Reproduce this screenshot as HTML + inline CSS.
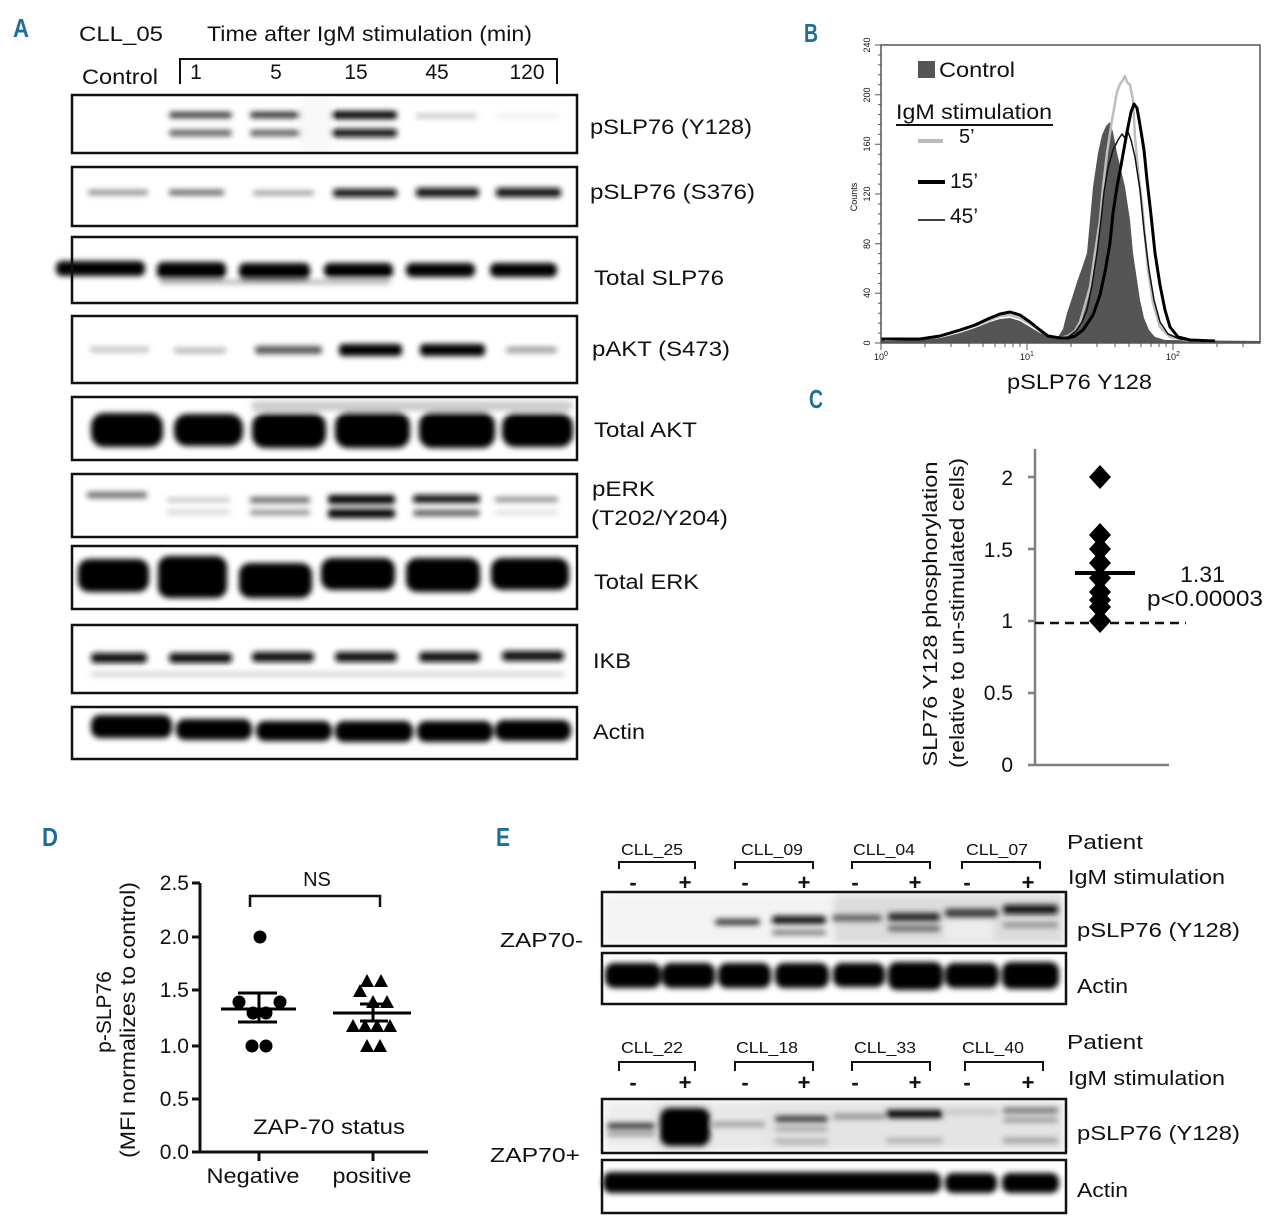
<!DOCTYPE html>
<html><head><meta charset="utf-8"><style>
html,body{margin:0;padding:0;background:#fff;}
svg{display:block;}
text{font-family:"Liberation Sans",Arial,sans-serif;fill:#111;}
.pl{font-family:"Liberation Sans Narrow","Liberation Sans",sans-serif;font-weight:bold;fill:#1e6e9c;font-size:26px;}
</style></head><body>
<svg width="1280" height="1226" viewBox="0 0 1280 1226" xmlns="http://www.w3.org/2000/svg">
<defs>
<filter id="b2" filterUnits="userSpaceOnUse" x="0" y="0" width="1280" height="1226"><feGaussianBlur stdDeviation="2.8"/></filter>
<filter id="b4" filterUnits="userSpaceOnUse" x="0" y="0" width="1280" height="1226"><feGaussianBlur stdDeviation="4"/></filter>
</defs>
<rect width="1280" height="1226" fill="#fff"/>

<!-- ============ PANEL A ============ -->
<text class="pl" x="13" y="37" textLength="16" lengthAdjust="spacingAndGlyphs">A</text>
<text x="79" y="41" font-size="21" textLength="84" lengthAdjust="spacingAndGlyphs">CLL_05</text>
<text x="207" y="41" font-size="21" textLength="325" lengthAdjust="spacingAndGlyphs">Time after IgM stimulation (min)</text>
<text x="82" y="84" font-size="21" textLength="76" lengthAdjust="spacingAndGlyphs">Control</text>
<path d="M180,84 L180,59 L557,59 L557,84" fill="none" stroke="#111" stroke-width="2"/>
<g font-size="21" text-anchor="middle">
<text x="196" y="79">1</text><text x="276" y="79">5</text><text x="356" y="79">15</text><text x="437" y="79">45</text><text x="527" y="79">120</text>
</g>

<!-- blot bands -->
<g filter="url(#b2)">
<!-- box1 pSLP76 Y128 -->
<rect x="169" y="112" width="63" height="6" rx="3" fill="#333"/>
<rect x="169" y="130" width="63" height="6" rx="3" fill="#555"/>
<rect x="250" y="112" width="63" height="6" rx="3" fill="#222"/>
<rect x="250" y="130" width="63" height="6" rx="3" fill="#555"/>
<rect x="331" y="111" width="66" height="8" rx="3" fill="#000"/>
<rect x="331" y="129" width="66" height="8" rx="3" fill="#111"/>
<rect x="416" y="114" width="61" height="4" rx="2" fill="#bbb"/>
<rect x="496" y="115" width="63" height="3" rx="2" fill="#e6e6e6"/>
<rect x="300" y="97" width="30" height="55" fill="#f8f8f8"/>
<!-- box2 pSLP76 S376 -->
<rect x="88" y="190" width="60" height="5" rx="2" fill="#888"/>
<rect x="169" y="190" width="55" height="5" rx="2" fill="#555"/>
<rect x="253" y="191" width="61" height="4" rx="2" fill="#888"/>
<rect x="333" y="189" width="64" height="8" rx="3" fill="#111"/>
<rect x="416" y="188" width="63" height="9" rx="3" fill="#111"/>
<rect x="496" y="188" width="65" height="9" rx="3" fill="#111"/>
<!-- box3 Total SLP76 -->
<rect x="56" y="261" width="89" height="15" rx="6" fill="#000"/>
<rect x="157" y="262" width="69" height="17" rx="6" fill="#000"/>
<rect x="239" y="263" width="71" height="17" rx="6" fill="#000"/>
<rect x="324" y="263" width="69" height="15" rx="6" fill="#000"/>
<rect x="406" y="263" width="69" height="14" rx="6" fill="#000"/>
<rect x="490" y="263" width="67" height="14" rx="6" fill="#000"/>
<rect x="160" y="280" width="230" height="4" fill="#aaa"/>
<!-- box4 pAKT -->
<rect x="90" y="347" width="59" height="5" rx="2" fill="#bbb"/>
<rect x="174" y="348" width="52" height="5" rx="2" fill="#aaa"/>
<rect x="255" y="346" width="67" height="8" rx="3" fill="#555"/>
<rect x="339" y="344" width="63" height="12" rx="4" fill="#000"/>
<rect x="420" y="344" width="65" height="12" rx="4" fill="#000"/>
<rect x="506" y="347" width="51" height="6" rx="3" fill="#999"/>
<!-- box5 Total AKT -->
<rect x="252" y="401" width="320" height="10" fill="#ccc"/>
<rect x="91" y="413" width="72" height="34" rx="13" fill="#000"/>
<rect x="174" y="414" width="69" height="32" rx="13" fill="#000"/>
<rect x="252" y="413" width="74" height="35" rx="13" fill="#000"/>
<rect x="335" y="412" width="75" height="36" rx="13" fill="#000"/>
<rect x="419" y="412" width="76" height="36" rx="13" fill="#000"/>
<rect x="502" y="413" width="71" height="34" rx="13" fill="#000"/>
<!-- box6 pERK -->
<rect x="87" y="492" width="60" height="6" rx="2" fill="#666"/>
<rect x="167" y="498" width="63" height="4" rx="2" fill="#bbb"/>
<rect x="167" y="510" width="63" height="4" rx="2" fill="#ccc"/>
<rect x="250" y="497" width="60" height="6" rx="2" fill="#666"/>
<rect x="250" y="510" width="60" height="5" rx="2" fill="#888"/>
<rect x="328" y="495" width="67" height="9" rx="3" fill="#000"/>
<rect x="328" y="509" width="67" height="9" rx="3" fill="#000"/>
<rect x="413" y="495" width="67" height="8" rx="3" fill="#111"/>
<rect x="413" y="510" width="67" height="6" rx="3" fill="#555"/>
<rect x="495" y="497" width="63" height="5" rx="2" fill="#888"/>
<rect x="495" y="511" width="63" height="3" rx="2" fill="#ccc"/>
<!-- box7 Total ERK -->
<rect x="78" y="559" width="71" height="33" rx="11" fill="#000"/>
<rect x="158" y="556" width="69" height="42" rx="11" fill="#000"/>
<rect x="239" y="563" width="73" height="35" rx="11" fill="#000"/>
<rect x="321" y="558" width="74" height="32" rx="11" fill="#000"/>
<rect x="406" y="558" width="74" height="34" rx="11" fill="#000"/>
<rect x="491" y="558" width="78" height="32" rx="11" fill="#000"/>
<!-- box8 IKB -->
<rect x="91" y="653" width="56" height="10" rx="4" fill="#111"/>
<rect x="169" y="653" width="63" height="10" rx="4" fill="#111"/>
<rect x="252" y="652" width="62" height="10" rx="4" fill="#111"/>
<rect x="335" y="652" width="62" height="10" rx="4" fill="#111"/>
<rect x="419" y="652" width="61" height="10" rx="4" fill="#111"/>
<rect x="502" y="651" width="62" height="10" rx="4" fill="#111"/>
<rect x="91" y="672" width="473" height="4" fill="#ccc"/>
<!-- box9 Actin -->
<rect x="91" y="715" width="81" height="23" rx="9" fill="#000"/>
<rect x="176" y="719" width="76" height="21" rx="9" fill="#000"/>
<rect x="256" y="721" width="76" height="20" rx="9" fill="#000"/>
<rect x="335" y="721" width="78" height="21" rx="9" fill="#000"/>
<rect x="417" y="721" width="76" height="21" rx="9" fill="#000"/>
<rect x="495" y="720" width="76" height="21" rx="9" fill="#000"/>
</g>
<g fill="none" stroke="#111" stroke-width="2.5">
<rect x="72" y="95" width="505" height="58"/>
<rect x="72" y="167" width="505" height="59"/>
<rect x="72" y="237" width="505" height="66"/>
<rect x="72" y="316" width="505" height="67"/>
<rect x="72" y="397" width="505" height="63"/>
<rect x="72" y="474" width="505" height="63"/>
<rect x="72" y="546" width="505" height="63"/>
<rect x="72" y="625" width="505" height="68"/>
<rect x="72" y="707" width="505" height="52"/>
</g>
<g font-size="21">
<text x="590" y="134" textLength="162" lengthAdjust="spacingAndGlyphs">pSLP76 (Y128)</text>
<text x="590" y="199" textLength="165" lengthAdjust="spacingAndGlyphs">pSLP76 (S376)</text>
<text x="594" y="285" textLength="130" lengthAdjust="spacingAndGlyphs">Total SLP76</text>
<text x="592" y="356" textLength="138" lengthAdjust="spacingAndGlyphs">pAKT (S473)</text>
<text x="594" y="437" textLength="103" lengthAdjust="spacingAndGlyphs">Total AKT</text>
<text x="592" y="496" textLength="63" lengthAdjust="spacingAndGlyphs">pERK</text>
<text x="591" y="525" textLength="137" lengthAdjust="spacingAndGlyphs">(T202/Y204)</text>
<text x="594" y="589" textLength="105" lengthAdjust="spacingAndGlyphs">Total ERK</text>
<text x="593" y="668" textLength="38" lengthAdjust="spacingAndGlyphs">IKB</text>
<text x="593" y="739" textLength="52" lengthAdjust="spacingAndGlyphs">Actin</text>
</g>

<!-- ============ PANEL B ============ -->
<text class="pl" x="804" y="42" textLength="14" lengthAdjust="spacingAndGlyphs">B</text>
<!-- histograms -->
<path d="M881,343 L881,336 L885,341 L920,340 L940,338 L960,333 L975,328 L990,322 L1000,319 L1010,318 L1020,321 L1030,327 L1040,333 L1050,337 L1058,337 L1063,329 L1067,313 L1072,298 L1077,282 L1082,268 L1087,253 L1090,220 L1093,187 L1098,153 L1102,135 L1106,126 L1110,122 L1113,132 L1117,153 L1121,170 L1125,187 L1130,220 L1133,253 L1137,280 L1140,300 L1144,318 L1149,330 L1155,337 L1165,340 L1260,341 L1260,343 Z" fill="#555"/>
<polyline fill="none" stroke="#bdbdbd" stroke-width="2.5" stroke-linejoin="round" points="881,339 920,339 940,336 960,331 975,326 990,320 1000,316 1010,315 1020,318 1030,324 1040,331 1048,336 1060,338 1068,336 1075,331 1080,322 1085,305 1090,287 1095,253 1100,220 1103,187 1107,153 1112,120 1117,92 1120,84 1123,80 1125,76 1127,82 1130,85 1133,100 1135,137 1138,170 1142,203 1145,237 1148,270 1153,303 1160,327 1170,337 1185,340 1200,341"/>
<polyline fill="none" stroke="#111" stroke-width="1.5" stroke-linejoin="round" points="881,339 920,339 940,336 960,330 975,325 990,318 1000,314 1010,312 1020,315 1030,322 1040,330 1048,336 1060,338 1068,337 1076,331 1082,322 1087,310 1092,285 1097,253 1101,220 1104,192 1108,168 1113,150 1118,140 1122,134 1125,138 1128,132 1131,140 1135,157 1140,190 1144,230 1149,270 1154,300 1160,322 1168,334 1180,339 1195,341"/>
<polyline fill="none" stroke="#000" stroke-width="3" stroke-linejoin="round" points="881,339 920,339 940,336 960,330 975,325 990,318 1000,314 1010,312 1020,315 1030,322 1040,330 1048,336 1060,338 1068,338 1075,336 1083,330 1093,315 1100,295 1105,272 1110,243 1113,213 1117,187 1122,160 1127,132 1131,112 1134,104 1137,108 1140,125 1144,150 1147,180 1151,215 1155,253 1160,285 1165,310 1170,327 1178,337 1190,340 1215,341"/>
<!-- axes frame -->
<rect x="881" y="45" width="379" height="298" fill="none" stroke="#555" stroke-width="1.5"/>
<g stroke="#555" stroke-width="1">
<path d="M875,343H881M875,293.3H881M875,243.7H881M875,194H881M875,144.3H881M875,94.7H881M875,45H881"/>
<path d="M878,333.1H881M878,323.1H881M878,313.2H881M878,303.2H881M878,283.4H881M878,273.5H881M878,263.6H881M878,253.6H881M878,233.8H881M878,223.9H881M878,213.9H881M878,204H881M878,184.1H881M878,174.2H881M878,164.3H881M878,154.3H881M878,134.4H881M878,124.5H881M878,114.6H881M878,104.6H881M878,84.8H881M878,74.8H881M878,64.9H881M878,55H881"/>
<path d="M881,343V350M1027,343V350M1173,343V350"/>
<path d="M925,343V347M951,343V347M969,343V347M983,343V347M995,343V347M1005,343V347M1013,343V347M1020,343V347M1071,343V347M1097,343V347M1115,343V347M1129,343V347M1141,343V347M1151,343V347M1159,343V347M1166,343V347M1217,343V347M1243,343V347"/>
</g>
<g font-size="9" fill="#333" text-anchor="middle">
<text transform="translate(870,343) rotate(-90)">0</text>
<text transform="translate(870,293) rotate(-90)">40</text>
<text transform="translate(870,244) rotate(-90)">80</text>
<text transform="translate(870,194) rotate(-90)">120</text>
<text transform="translate(870,144) rotate(-90)">160</text>
<text transform="translate(870,95) rotate(-90)">200</text>
<text transform="translate(870,45) rotate(-90)">240</text>
<text transform="translate(857,197) rotate(-90)">Counts</text>
<text x="881" y="360">10<tspan font-size="7" dy="-4">0</tspan></text>
<text x="1027" y="360">10<tspan font-size="7" dy="-4">1</tspan></text>
<text x="1173" y="360">10<tspan font-size="7" dy="-4">2</tspan></text>
</g>
<!-- legend -->
<rect x="918" y="61" width="17" height="17" fill="#555"/>
<text x="939" y="77" font-size="21" textLength="76" lengthAdjust="spacingAndGlyphs">Control</text>
<text x="896" y="119" font-size="21" textLength="156" lengthAdjust="spacingAndGlyphs">IgM stimulation</text>
<line x1="896" y1="125" x2="1053" y2="125" stroke="#111" stroke-width="2"/>
<line x1="918" y1="141" x2="943" y2="141" stroke="#bbb" stroke-width="4"/>
<text x="959" y="143" font-size="20">5’</text>
<line x1="918" y1="182" x2="945" y2="182" stroke="#000" stroke-width="4"/>
<text x="950" y="188" font-size="21">15’</text>
<line x1="918" y1="220" x2="945" y2="220" stroke="#000" stroke-width="1.5"/>
<text x="950" y="223" font-size="21">45’</text>
<text x="1007" y="389" font-size="21" textLength="145" lengthAdjust="spacingAndGlyphs">pSLP76 Y128</text>

<!-- ============ PANEL C ============ -->
<text class="pl" x="809" y="408" textLength="14" lengthAdjust="spacingAndGlyphs">C</text>
<g stroke="#808080" stroke-width="2.5" fill="none">
<path d="M1035,449V765M1028,765H1169"/>
<path d="M1028,477H1035M1028,549H1035M1028,621H1035M1028,693H1035"/>
</g>
<g font-size="21" text-anchor="end">
<text x="1013" y="485">2</text>
<text x="1013" y="557">1.5</text>
<text x="1013" y="628">1</text>
<text x="1013" y="700">0.5</text>
<text x="1013" y="772">0</text>
</g>
<g font-size="20" text-anchor="middle">
<text transform="translate(937,614) rotate(-90)" textLength="305" lengthAdjust="spacingAndGlyphs">SLP76 Y128 phosphorylation</text>
<text transform="translate(964,613) rotate(-90)" textLength="310" lengthAdjust="spacingAndGlyphs">(relative to un-stimulated cells)</text>
</g>
<line x1="1035" y1="623" x2="1186" y2="623" stroke="#111" stroke-width="2.5" stroke-dasharray="9,6"/>
<g fill="#000">
<path d="M1100,465 L1111,477 L1100,489 L1089,477 Z"/>
<path d="M1100,523 L1111,535 L1100,547 L1089,535 Z"/>
<path d="M1100,537 L1111,549 L1100,561 L1089,549 Z"/>
<path d="M1100,551 L1111,563 L1100,575 L1089,563 Z"/>
<path d="M1100,566 L1111,578 L1100,590 L1089,578 Z"/>
<path d="M1100,580 L1111,592 L1100,604 L1089,592 Z"/>
<path d="M1100,588 L1111,600 L1100,612 L1089,600 Z"/>
<path d="M1100,595 L1111,607 L1100,619 L1089,607 Z"/>
<path d="M1100,609 L1111,621 L1100,633 L1089,621 Z"/>
</g>
<line x1="1075" y1="573" x2="1135" y2="573" stroke="#000" stroke-width="4"/>
<text x="1180" y="582" font-size="22" textLength="45" lengthAdjust="spacingAndGlyphs">1.31</text>
<text x="1147" y="606" font-size="22" textLength="116" lengthAdjust="spacingAndGlyphs">p&lt;0.00003</text>

<!-- ============ PANEL D ============ -->
<text class="pl" x="42" y="846" textLength="16" lengthAdjust="spacingAndGlyphs">D</text>
<g stroke="#111" stroke-width="3" fill="none">
<path d="M200,883V1152M198,1152H428"/>
<path d="M192,883H200M192,937H200M192,990H200M192,1046H200M192,1099H200M192,1152H200"/>
<path d="M259,1152V1161M373,1152V1161"/>
<path d="M250,907V896H380V907" stroke-width="2.5"/>
</g>
<g font-size="21" text-anchor="end">
<text x="189" y="890">2.5</text>
<text x="189" y="944">2.0</text>
<text x="189" y="997">1.5</text>
<text x="189" y="1053">1.0</text>
<text x="189" y="1106">0.5</text>
<text x="189" y="1159">0.0</text>
</g>
<text x="317" y="886" font-size="20" text-anchor="middle">NS</text>
<g font-size="21" text-anchor="middle">
<text transform="translate(111,1012) rotate(-90)">p-SLP76</text>
<text transform="translate(135,1020) rotate(-90)" textLength="276" lengthAdjust="spacingAndGlyphs">(MFI normalizes to control)</text>
<text x="253" y="1183" textLength="93" lengthAdjust="spacingAndGlyphs">Negative</text>
<text x="372" y="1183" textLength="79" lengthAdjust="spacingAndGlyphs">positive</text>
<text x="329" y="1134" textLength="152" lengthAdjust="spacingAndGlyphs">ZAP-70 status</text>
</g>
<g fill="#000">
<circle cx="260" cy="937" r="6.5"/>
<circle cx="239" cy="1002" r="6.5"/>
<circle cx="280" cy="1002" r="6.5"/>
<circle cx="253" cy="1013" r="6.5"/>
<circle cx="266" cy="1013" r="6.5"/>
<circle cx="252" cy="1046" r="6.5"/>
<circle cx="266" cy="1046" r="6.5"/>
<path d="M367,974l7,13h-14z M381,974l7,13h-14z M360,984l7,13h-14z M373,995l7,13h-14z M387,995l7,13h-14z M353,1019l7,13h-14z M365,1019l7,13h-14z M377,1019l7,13h-14z M390,1019l7,13h-14z M367,1039l7,13h-14z M380,1039l7,13h-14z"/>
</g>
<g stroke="#000" stroke-width="3" fill="none">
<path d="M221,1009H296M238,993H277M238,1022H277M259,993V1022"/>
<path d="M333,1013H411M360,1004H388M360,1021H388M373,1004V1021"/>
</g>

<!-- ============ PANEL E ============ -->
<text class="pl" x="496" y="846" textLength="14" lengthAdjust="spacingAndGlyphs">E</text>
<g font-size="16" text-anchor="middle">
<text x="652" y="855" textLength="62" lengthAdjust="spacingAndGlyphs">CLL_25</text>
<text x="772" y="855" textLength="62" lengthAdjust="spacingAndGlyphs">CLL_09</text>
<text x="884" y="855" textLength="62" lengthAdjust="spacingAndGlyphs">CLL_04</text>
<text x="997" y="855" textLength="62" lengthAdjust="spacingAndGlyphs">CLL_07</text>
<text x="652" y="1053" textLength="62" lengthAdjust="spacingAndGlyphs">CLL_22</text>
<text x="767" y="1053" textLength="62" lengthAdjust="spacingAndGlyphs">CLL_18</text>
<text x="885" y="1053" textLength="62" lengthAdjust="spacingAndGlyphs">CLL_33</text>
<text x="993" y="1053" textLength="62" lengthAdjust="spacingAndGlyphs">CLL_40</text>
</g>
<g stroke="#111" stroke-width="2" fill="none">
<path d="M619,869V862H695V869M735,869V862H813V869M852,869V862H930V869M962,869V862H1040V869"/>
<path d="M619,1071V1062H695V1071M735,1071V1062H813V1071M852,1071V1062H930V1071M965,1071V1062H1043V1071"/>
</g>
<g font-size="22" font-weight="bold" text-anchor="middle">
<text x="633" y="890">-</text><text x="685" y="890">+</text>
<text x="745" y="890">-</text><text x="804" y="890">+</text>
<text x="855" y="890">-</text><text x="915" y="890">+</text>
<text x="967" y="890">-</text><text x="1028" y="890">+</text>
<text x="633" y="1090">-</text><text x="685" y="1090">+</text>
<text x="745" y="1090">-</text><text x="804" y="1090">+</text>
<text x="855" y="1090">-</text><text x="915" y="1090">+</text>
<text x="967" y="1090">-</text><text x="1028" y="1090">+</text>
</g>
<g font-size="20">
<text x="1067" y="849" textLength="76" lengthAdjust="spacingAndGlyphs">Patient</text>
<text x="1068" y="884" textLength="157" lengthAdjust="spacingAndGlyphs">IgM stimulation</text>
<text x="1077" y="937" textLength="163" lengthAdjust="spacingAndGlyphs">pSLP76 (Y128)</text>
<text x="1077" y="993" textLength="51" lengthAdjust="spacingAndGlyphs">Actin</text>
<text x="500" y="947" textLength="83" lengthAdjust="spacingAndGlyphs">ZAP70-</text>
<text x="1067" y="1049" textLength="76" lengthAdjust="spacingAndGlyphs">Patient</text>
<text x="1068" y="1085" textLength="157" lengthAdjust="spacingAndGlyphs">IgM stimulation</text>
<text x="1077" y="1140" textLength="163" lengthAdjust="spacingAndGlyphs">pSLP76 (Y128)</text>
<text x="1077" y="1197" textLength="51" lengthAdjust="spacingAndGlyphs">Actin</text>
<text x="490" y="1162" textLength="90" lengthAdjust="spacingAndGlyphs">ZAP70+</text>
</g>
<g filter="url(#b4)">
<rect x="604" y="894" width="230" height="50" fill="#f3f3f3"/>
<rect x="834" y="894" width="230" height="50" fill="#dcdcdc"/>
<rect x="944" y="918" width="50" height="22" fill="#ececec"/>
<rect x="604" y="1101" width="460" height="50" fill="#e4e4e4"/>
<rect x="604" y="1101" width="50" height="50" fill="#eeeeee"/>
<rect x="712" y="1101" width="50" height="50" fill="#e8e8e8"/>
</g>
<g filter="url(#b2)">
<rect x="715" y="919" width="45" height="6" rx="3" fill="#333"/>
<rect x="772" y="916" width="54" height="8" rx="3" fill="#111"/>
<rect x="772" y="930" width="54" height="5" rx="2" fill="#777"/>
<rect x="832" y="915" width="50" height="6" rx="3" fill="#555"/>
<rect x="888" y="913" width="52" height="8" rx="3" fill="#222"/>
<rect x="888" y="926" width="52" height="5" rx="2" fill="#555"/>
<rect x="945" y="909" width="53" height="8" rx="3" fill="#333"/>
<rect x="1003" y="905" width="55" height="9" rx="3" fill="#111"/>
<rect x="1003" y="923" width="55" height="4" rx="2" fill="#777"/>
<rect x="605" y="963" width="56" height="25" rx="9" fill="#000"/>
<rect x="662" y="963" width="53" height="25" rx="9" fill="#000"/>
<rect x="718" y="963" width="53" height="25" rx="9" fill="#000"/>
<rect x="775" y="963" width="54" height="25" rx="9" fill="#000"/>
<rect x="833" y="963" width="52" height="24" rx="9" fill="#000"/>
<rect x="888" y="962" width="55" height="28" rx="9" fill="#000"/>
<rect x="945" y="963" width="54" height="25" rx="9" fill="#000"/>
<rect x="1002" y="962" width="57" height="27" rx="9" fill="#000"/>
<rect x="607" y="1123" width="48" height="6" rx="3" fill="#333"/>
<rect x="607" y="1132" width="48" height="4" rx="2" fill="#888"/>
<rect x="660" y="1108" width="50" height="38" rx="10" fill="#000"/>
<rect x="712" y="1122" width="53" height="5" rx="2" fill="#999"/>
<rect x="775" y="1116" width="53" height="6" rx="3" fill="#333"/>
<rect x="775" y="1127" width="53" height="4" rx="2" fill="#999"/>
<rect x="775" y="1139" width="53" height="5" rx="2" fill="#aaa"/>
<rect x="833" y="1114" width="52" height="5" rx="2" fill="#888"/>
<rect x="886" y="1110" width="57" height="8" rx="3" fill="#000"/>
<rect x="886" y="1138" width="57" height="5" rx="2" fill="#aaa"/>
<rect x="945" y="1110" width="53" height="4" rx="2" fill="#bbb"/>
<rect x="1003" y="1108" width="55" height="5" rx="2" fill="#666"/>
<rect x="1003" y="1118" width="55" height="4" rx="2" fill="#888"/>
<rect x="1003" y="1138" width="55" height="5" rx="2" fill="#999"/>
<rect x="603" y="1172" width="338" height="21" rx="8" fill="#000"/>
<rect x="945" y="1173" width="52" height="20" rx="8" fill="#000"/>
<rect x="1002" y="1173" width="57" height="20" rx="8" fill="#000"/>
</g>
<g fill="none" stroke="#111" stroke-width="2.5">
<rect x="602" y="892" width="464" height="54"/>
<rect x="602" y="953" width="464" height="51"/>
<rect x="602" y="1099" width="464" height="54"/>
<rect x="602" y="1160" width="464" height="53"/>
</g>
</svg>
</body></html>
